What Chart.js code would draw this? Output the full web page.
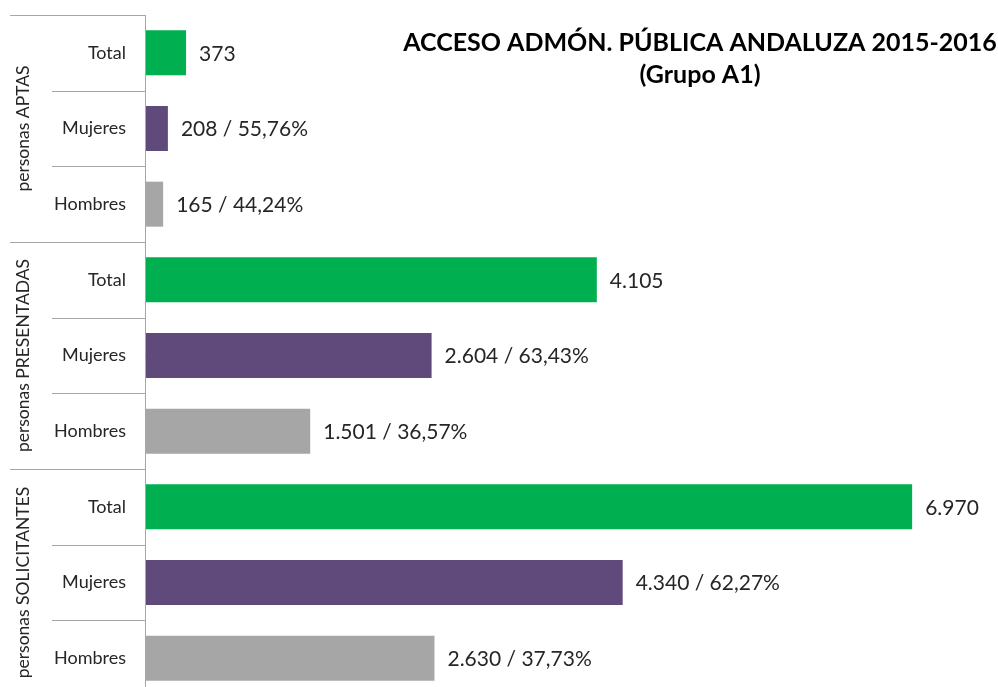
<!DOCTYPE html>
<html>
<head>
<meta charset="utf-8">
<script src="https://cdn.jsdelivr.net/npm/chart.js@4/dist/chart.umd.min.js"></script>
<style>
html,body{margin:0;padding:0;background:#fff;overflow:hidden;}
#wrap{width:998px;height:700px;position:relative;}
</style>
</head>
<body>
<div id="wrap"><canvas id="c" width="998" height="700"></canvas></div>
<script>
const groups = ['personas APTAS', 'personas PRESENTADAS', 'personas SOLICITANTES'];
const rows = ['Total', 'Mujeres', 'Hombres'];
const aptas = [373, 208, 165];
const presentadas = [4105, 2604, 1501];
const solicitantes = [6970, 4340, 2630];
const pctAptas = ['', '55,76%', '44,24%'];
const pctPresentadas = ['', '63,43%', '36,57%'];
const pctSolicitantes = ['', '62,27%', '37,73%'];
const rowColors = ['#00B050', '#604A7B', '#A6A6A6'];
const titleLines = ['ACCESO ADMÓN. PÚBLICA ANDALUZA 2015-2016', '(Grupo A1)'];

const allValues = [...aptas, ...presentadas, ...solicitantes];
const allPct = [...pctAptas, ...pctPresentadas, ...pctSolicitantes];
const labels = [];
groups.forEach(g => rows.forEach(r => labels.push(r)));
const colors = [];
groups.forEach(() => rowColors.forEach(c => colors.push(c)));

function fmt(n){ return String(n).replace(/\B(?=(\d{3})+(?!\d))/g, '.'); }

const FONT = 'Lato, "Open Sans", sans-serif';

const deco = {
  id: 'deco',
  afterDraw(chart){
    const ctx = chart.ctx;
    const y = chart.scales.y, x = chart.scales.x;
    const ca = chart.chartArea;
    const rowH = (y.getPixelForValue(1) - y.getPixelForValue(0));
    ctx.save();
    // axis + separators
    ctx.strokeStyle = '#a6a6a6';
    ctx.lineWidth = 1;
    ctx.beginPath();
    ctx.moveTo(ca.left + 0.5, ca.top); ctx.lineTo(ca.left + 0.5, ca.bottom);
    for (let i = 0; i <= labels.length; i++){
      const py = Math.round(y.getPixelForValue(i) - rowH/2) + 0.5;
      const x0 = (i % rows.length === 0) ? 10 : 52;
      ctx.moveTo(x0, py); ctx.lineTo(ca.left, py);
    }
    ctx.stroke();
    // category labels
    ctx.fillStyle = '#262626';
    ctx.font = '18px ' + FONT;
    ctx.textAlign = 'right';
    ctx.textBaseline = 'middle';
    labels.forEach((l, i) => ctx.fillText(l, 126, y.getPixelForValue(i)));
    // group labels
    ctx.font = '17.5px ' + FONT;
    groups.forEach((g, gi) => {
      const top = y.getPixelForValue(gi*rows.length) - rowH/2;
      const bot = y.getPixelForValue(gi*rows.length + rows.length - 1) + rowH/2;
      ctx.save();
      ctx.translate(23, (top + bot)/2);
      ctx.rotate(-Math.PI/2);
      ctx.textAlign = 'center';
      ctx.fillText(g, 0, 0);
      ctx.restore();
    });
    // data labels
    ctx.font = '21px ' + FONT;
    ctx.textAlign = 'left';
    ctx.fillStyle = '#262626';
    allValues.forEach((v, i) => {
      const txt = allPct[i] ? fmt(v) + ' / ' + allPct[i] : fmt(v);
      ctx.fillText(txt, x.getPixelForValue(v) + 13, y.getPixelForValue(i) + 1);
    });
    // title
    ctx.font = 'bold 25px ' + FONT;
    ctx.fillStyle = '#000';
    ctx.textAlign = 'center';
    ctx.fillText(titleLines[0], 700, 43);
    ctx.fillText(titleLines[1], 700, 75);
    ctx.restore();
  }
};

new Chart(document.getElementById('c'), {
  type: 'bar',
  data: {
    labels: labels,
    datasets: [{ data: allValues, backgroundColor: colors, barPercentage: 0.595, categoryPercentage: 1 }]
  },
  options: {
    indexAxis: 'y',
    responsive: false,
    animation: false,
    layout: { padding: { left: 145, top: 15, bottom: 4, right: 0 } },
    plugins: { legend: { display: false }, tooltip: { enabled: false }, title: { display: false } },
    scales: {
      x: { display: false, min: 0, max: 7750 },
      y: { display: false }
    }
  },
  plugins: [deco]
});
</script>
</body>
</html>
